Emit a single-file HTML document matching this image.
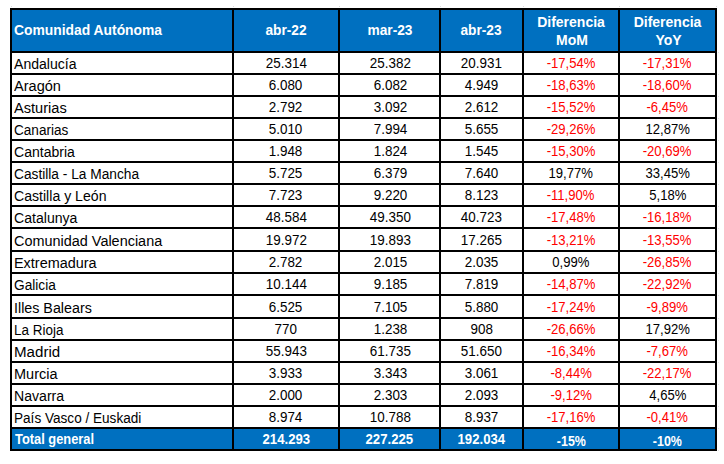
<!DOCTYPE html>
<html><head><meta charset="utf-8"><style>
html,body{margin:0;padding:0;background:#fff;width:724px;height:464px;overflow:hidden;}
body{position:relative;font-family:"Liberation Sans",sans-serif;color:#000;}
.b{position:absolute;background:#000;}
.f{position:absolute;background:#0070C0;}
.t{position:absolute;white-space:nowrap;font-size:14px;line-height:20px;height:20px;}
.t span{display:inline-block;}
.c{transform-origin:center 0;}
.w{color:#fff;font-weight:bold;}
.r{color:#f00;}
</style></head><body>

<div class="f" style="left:10px;top:8px;width:707px;height:43px"></div>
<div class="f" style="left:10px;top:427px;width:707px;height:22px"></div>
<div class="b" style="left:10px;top:8px;width:707px;height:2px"></div>
<div class="b" style="left:10px;top:51px;width:707px;height:2px"></div>
<div class="b" style="left:10px;top:73px;width:707px;height:2px"></div>
<div class="b" style="left:10px;top:95px;width:707px;height:2px"></div>
<div class="b" style="left:10px;top:117px;width:707px;height:2px"></div>
<div class="b" style="left:10px;top:139px;width:707px;height:2px"></div>
<div class="b" style="left:10px;top:161px;width:707px;height:2px"></div>
<div class="b" style="left:10px;top:183px;width:707px;height:2px"></div>
<div class="b" style="left:10px;top:205px;width:707px;height:2px"></div>
<div class="b" style="left:10px;top:227px;width:707px;height:2px"></div>
<div class="b" style="left:10px;top:250px;width:707px;height:2px"></div>
<div class="b" style="left:10px;top:272px;width:707px;height:2px"></div>
<div class="b" style="left:10px;top:294px;width:707px;height:2px"></div>
<div class="b" style="left:10px;top:317px;width:707px;height:2px"></div>
<div class="b" style="left:10px;top:339px;width:707px;height:2px"></div>
<div class="b" style="left:10px;top:361px;width:707px;height:2px"></div>
<div class="b" style="left:10px;top:383px;width:707px;height:2px"></div>
<div class="b" style="left:10px;top:405px;width:707px;height:2px"></div>
<div class="b" style="left:10px;top:427px;width:707px;height:2px"></div>
<div class="b" style="left:10px;top:449px;width:707px;height:2px"></div>
<div class="b" style="left:10px;top:8px;width:2px;height:443px"></div>
<div class="b" style="left:232px;top:8px;width:2px;height:443px"></div>
<div class="b" style="left:338px;top:8px;width:2px;height:443px"></div>
<div class="b" style="left:439px;top:8px;width:2px;height:443px"></div>
<div class="b" style="left:522px;top:8px;width:2px;height:443px"></div>
<div class="b" style="left:618px;top:8px;width:2px;height:443px"></div>
<div class="b" style="left:715px;top:8px;width:2px;height:443px"></div>
<div class="t w" style="left:14.0px;top:20.0px"><span style="transform:scaleX(0.990);transform-origin:0 0">Comunidad Autónoma</span></div>
<div class="t w" style="left:234.0px;top:20.0px;width:104.0px;text-align:center"><span style="transform:scaleX(0.980);transform-origin:50% 0">abr-22</span></div>
<div class="t w" style="left:340.0px;top:20.0px;width:99.0px;text-align:center"><span style="transform:scaleX(0.980);transform-origin:50% 0">mar-23</span></div>
<div class="t w" style="left:441.0px;top:20.0px;width:81.0px;text-align:center"><span style="transform:scaleX(0.980);transform-origin:50% 0">abr-23</span></div>
<div class="t w" style="left:524.0px;top:12.0px;width:94.0px;text-align:center"><span style="transform:scaleX(1.000);transform-origin:50% 0">Diferencia</span></div>
<div class="t w" style="left:525.0px;top:30.0px;width:94.0px;text-align:center"><span style="transform:scaleX(1.000);transform-origin:50% 0">MoM</span></div>
<div class="t w" style="left:620.0px;top:12.0px;width:95.0px;text-align:center"><span style="transform:scaleX(1.000);transform-origin:50% 0">Diferencia</span></div>
<div class="t w" style="left:621.0px;top:30.0px;width:95.0px;text-align:center"><span style="transform:scaleX(1.000);transform-origin:50% 0">YoY</span></div>
<div class="t " style="left:14.0px;top:54.0px"><span style="transform:scaleX(1.005);transform-origin:0 0">Andalucía</span></div>
<div class="t " style="left:234.0px;top:53.0px;width:104.0px;text-align:center"><span style="transform:scaleX(0.960);transform-origin:50% 0">25.314</span></div>
<div class="t " style="left:341.0px;top:53.0px;width:99.0px;text-align:center"><span style="transform:scaleX(0.960);transform-origin:50% 0">25.382</span></div>
<div class="t " style="left:441.0px;top:53.0px;width:81.0px;text-align:center"><span style="transform:scaleX(0.960);transform-origin:50% 0">20.931</span></div>
<div class="t r" style="left:524.0px;top:53.0px;width:94.0px;text-align:center"><span style="transform:scaleX(0.935);transform-origin:50% 0">-17,54%</span></div>
<div class="t r" style="left:620.0px;top:53.0px;width:95.0px;text-align:center"><span style="transform:scaleX(0.935);transform-origin:50% 0">-17,31%</span></div>
<div class="t " style="left:14.0px;top:76.0px"><span style="transform:scaleX(1.039);transform-origin:0 0">Aragón</span></div>
<div class="t " style="left:234.0px;top:75.0px;width:104.0px;text-align:center"><span style="transform:scaleX(0.960);transform-origin:50% 0">6.080</span></div>
<div class="t " style="left:341.0px;top:75.0px;width:99.0px;text-align:center"><span style="transform:scaleX(0.960);transform-origin:50% 0">6.082</span></div>
<div class="t " style="left:441.0px;top:75.0px;width:81.0px;text-align:center"><span style="transform:scaleX(0.960);transform-origin:50% 0">4.949</span></div>
<div class="t r" style="left:524.0px;top:75.0px;width:94.0px;text-align:center"><span style="transform:scaleX(0.935);transform-origin:50% 0">-18,63%</span></div>
<div class="t r" style="left:620.0px;top:75.0px;width:95.0px;text-align:center"><span style="transform:scaleX(0.935);transform-origin:50% 0">-18,60%</span></div>
<div class="t " style="left:14.0px;top:98.0px"><span style="transform:scaleX(1.044);transform-origin:0 0">Asturias</span></div>
<div class="t " style="left:234.0px;top:97.0px;width:104.0px;text-align:center"><span style="transform:scaleX(0.960);transform-origin:50% 0">2.792</span></div>
<div class="t " style="left:341.0px;top:97.0px;width:99.0px;text-align:center"><span style="transform:scaleX(0.960);transform-origin:50% 0">3.092</span></div>
<div class="t " style="left:441.0px;top:97.0px;width:81.0px;text-align:center"><span style="transform:scaleX(0.960);transform-origin:50% 0">2.612</span></div>
<div class="t r" style="left:524.0px;top:97.0px;width:94.0px;text-align:center"><span style="transform:scaleX(0.935);transform-origin:50% 0">-15,52%</span></div>
<div class="t r" style="left:620.0px;top:97.0px;width:95.0px;text-align:center"><span style="transform:scaleX(0.935);transform-origin:50% 0">-6,45%</span></div>
<div class="t " style="left:14.0px;top:120.0px"><span style="transform:scaleX(0.970);transform-origin:0 0">Canarias</span></div>
<div class="t " style="left:234.0px;top:119.0px;width:104.0px;text-align:center"><span style="transform:scaleX(0.960);transform-origin:50% 0">5.010</span></div>
<div class="t " style="left:341.0px;top:119.0px;width:99.0px;text-align:center"><span style="transform:scaleX(0.960);transform-origin:50% 0">7.994</span></div>
<div class="t " style="left:441.0px;top:119.0px;width:81.0px;text-align:center"><span style="transform:scaleX(0.960);transform-origin:50% 0">5.655</span></div>
<div class="t r" style="left:524.0px;top:119.0px;width:94.0px;text-align:center"><span style="transform:scaleX(0.935);transform-origin:50% 0">-29,26%</span></div>
<div class="t " style="left:620.0px;top:119.0px;width:95.0px;text-align:center"><span style="transform:scaleX(0.935);transform-origin:50% 0">12,87%</span></div>
<div class="t " style="left:14.0px;top:142.0px"><span style="transform:scaleX(1.003);transform-origin:0 0">Cantabria</span></div>
<div class="t " style="left:234.0px;top:141.0px;width:104.0px;text-align:center"><span style="transform:scaleX(0.960);transform-origin:50% 0">1.948</span></div>
<div class="t " style="left:341.0px;top:141.0px;width:99.0px;text-align:center"><span style="transform:scaleX(0.960);transform-origin:50% 0">1.824</span></div>
<div class="t " style="left:441.0px;top:141.0px;width:81.0px;text-align:center"><span style="transform:scaleX(0.960);transform-origin:50% 0">1.545</span></div>
<div class="t r" style="left:524.0px;top:141.0px;width:94.0px;text-align:center"><span style="transform:scaleX(0.935);transform-origin:50% 0">-15,30%</span></div>
<div class="t r" style="left:620.0px;top:141.0px;width:95.0px;text-align:center"><span style="transform:scaleX(0.935);transform-origin:50% 0">-20,69%</span></div>
<div class="t " style="left:14.0px;top:164.0px"><span style="transform:scaleX(0.980);transform-origin:0 0">Castilla - La Mancha</span></div>
<div class="t " style="left:234.0px;top:163.0px;width:104.0px;text-align:center"><span style="transform:scaleX(0.960);transform-origin:50% 0">5.725</span></div>
<div class="t " style="left:341.0px;top:163.0px;width:99.0px;text-align:center"><span style="transform:scaleX(0.960);transform-origin:50% 0">6.379</span></div>
<div class="t " style="left:441.0px;top:163.0px;width:81.0px;text-align:center"><span style="transform:scaleX(0.960);transform-origin:50% 0">7.640</span></div>
<div class="t " style="left:524.0px;top:163.0px;width:94.0px;text-align:center"><span style="transform:scaleX(0.935);transform-origin:50% 0">19,77%</span></div>
<div class="t " style="left:620.0px;top:163.0px;width:95.0px;text-align:center"><span style="transform:scaleX(0.935);transform-origin:50% 0">33,45%</span></div>
<div class="t " style="left:14.0px;top:186.0px"><span style="transform:scaleX(1.007);transform-origin:0 0">Castilla y León</span></div>
<div class="t " style="left:234.0px;top:185.0px;width:104.0px;text-align:center"><span style="transform:scaleX(0.960);transform-origin:50% 0">7.723</span></div>
<div class="t " style="left:341.0px;top:185.0px;width:99.0px;text-align:center"><span style="transform:scaleX(0.960);transform-origin:50% 0">9.220</span></div>
<div class="t " style="left:441.0px;top:185.0px;width:81.0px;text-align:center"><span style="transform:scaleX(0.960);transform-origin:50% 0">8.123</span></div>
<div class="t r" style="left:524.0px;top:185.0px;width:94.0px;text-align:center"><span style="transform:scaleX(0.935);transform-origin:50% 0">-11,90%</span></div>
<div class="t " style="left:620.0px;top:185.0px;width:95.0px;text-align:center"><span style="transform:scaleX(0.935);transform-origin:50% 0">5,18%</span></div>
<div class="t " style="left:14.0px;top:208.0px"><span style="transform:scaleX(1.006);transform-origin:0 0">Catalunya</span></div>
<div class="t " style="left:234.0px;top:207.0px;width:104.0px;text-align:center"><span style="transform:scaleX(0.960);transform-origin:50% 0">48.584</span></div>
<div class="t " style="left:341.0px;top:207.0px;width:99.0px;text-align:center"><span style="transform:scaleX(0.960);transform-origin:50% 0">49.350</span></div>
<div class="t " style="left:441.0px;top:207.0px;width:81.0px;text-align:center"><span style="transform:scaleX(0.960);transform-origin:50% 0">40.723</span></div>
<div class="t r" style="left:524.0px;top:207.0px;width:94.0px;text-align:center"><span style="transform:scaleX(0.935);transform-origin:50% 0">-17,48%</span></div>
<div class="t r" style="left:620.0px;top:207.0px;width:95.0px;text-align:center"><span style="transform:scaleX(0.935);transform-origin:50% 0">-16,18%</span></div>
<div class="t " style="left:14.0px;top:231.0px"><span style="transform:scaleX(1.031);transform-origin:0 0">Comunidad Valenciana</span></div>
<div class="t " style="left:234.0px;top:230.0px;width:104.0px;text-align:center"><span style="transform:scaleX(0.960);transform-origin:50% 0">19.972</span></div>
<div class="t " style="left:341.0px;top:230.0px;width:99.0px;text-align:center"><span style="transform:scaleX(0.960);transform-origin:50% 0">19.893</span></div>
<div class="t " style="left:441.0px;top:230.0px;width:81.0px;text-align:center"><span style="transform:scaleX(0.960);transform-origin:50% 0">17.265</span></div>
<div class="t r" style="left:524.0px;top:230.0px;width:94.0px;text-align:center"><span style="transform:scaleX(0.935);transform-origin:50% 0">-13,21%</span></div>
<div class="t r" style="left:620.0px;top:230.0px;width:95.0px;text-align:center"><span style="transform:scaleX(0.935);transform-origin:50% 0">-13,55%</span></div>
<div class="t " style="left:14.0px;top:253.0px"><span style="transform:scaleX(1.030);transform-origin:0 0">Extremadura</span></div>
<div class="t " style="left:234.0px;top:252.0px;width:104.0px;text-align:center"><span style="transform:scaleX(0.960);transform-origin:50% 0">2.782</span></div>
<div class="t " style="left:341.0px;top:252.0px;width:99.0px;text-align:center"><span style="transform:scaleX(0.960);transform-origin:50% 0">2.015</span></div>
<div class="t " style="left:441.0px;top:252.0px;width:81.0px;text-align:center"><span style="transform:scaleX(0.960);transform-origin:50% 0">2.035</span></div>
<div class="t " style="left:524.0px;top:252.0px;width:94.0px;text-align:center"><span style="transform:scaleX(0.935);transform-origin:50% 0">0,99%</span></div>
<div class="t r" style="left:620.0px;top:252.0px;width:95.0px;text-align:center"><span style="transform:scaleX(0.935);transform-origin:50% 0">-26,85%</span></div>
<div class="t " style="left:14.0px;top:275.0px"><span style="transform:scaleX(0.979);transform-origin:0 0">Galicia</span></div>
<div class="t " style="left:234.0px;top:274.0px;width:104.0px;text-align:center"><span style="transform:scaleX(0.960);transform-origin:50% 0">10.144</span></div>
<div class="t " style="left:341.0px;top:274.0px;width:99.0px;text-align:center"><span style="transform:scaleX(0.960);transform-origin:50% 0">9.185</span></div>
<div class="t " style="left:441.0px;top:274.0px;width:81.0px;text-align:center"><span style="transform:scaleX(0.960);transform-origin:50% 0">7.819</span></div>
<div class="t r" style="left:524.0px;top:274.0px;width:94.0px;text-align:center"><span style="transform:scaleX(0.935);transform-origin:50% 0">-14,87%</span></div>
<div class="t r" style="left:620.0px;top:274.0px;width:95.0px;text-align:center"><span style="transform:scaleX(0.935);transform-origin:50% 0">-22,92%</span></div>
<div class="t " style="left:14.0px;top:298.0px"><span style="transform:scaleX(1.020);transform-origin:0 0">Illes Balears</span></div>
<div class="t " style="left:234.0px;top:297.0px;width:104.0px;text-align:center"><span style="transform:scaleX(0.960);transform-origin:50% 0">6.525</span></div>
<div class="t " style="left:341.0px;top:297.0px;width:99.0px;text-align:center"><span style="transform:scaleX(0.960);transform-origin:50% 0">7.105</span></div>
<div class="t " style="left:441.0px;top:297.0px;width:81.0px;text-align:center"><span style="transform:scaleX(0.960);transform-origin:50% 0">5.880</span></div>
<div class="t r" style="left:524.0px;top:297.0px;width:94.0px;text-align:center"><span style="transform:scaleX(0.935);transform-origin:50% 0">-17,24%</span></div>
<div class="t r" style="left:620.0px;top:297.0px;width:95.0px;text-align:center"><span style="transform:scaleX(0.935);transform-origin:50% 0">-9,89%</span></div>
<div class="t " style="left:14.0px;top:320.0px"><span style="transform:scaleX(0.961);transform-origin:0 0">La Rioja</span></div>
<div class="t " style="left:234.0px;top:319.0px;width:104.0px;text-align:center"><span style="transform:scaleX(0.960);transform-origin:50% 0">770</span></div>
<div class="t " style="left:341.0px;top:319.0px;width:99.0px;text-align:center"><span style="transform:scaleX(0.960);transform-origin:50% 0">1.238</span></div>
<div class="t " style="left:441.0px;top:319.0px;width:81.0px;text-align:center"><span style="transform:scaleX(0.960);transform-origin:50% 0">908</span></div>
<div class="t r" style="left:524.0px;top:319.0px;width:94.0px;text-align:center"><span style="transform:scaleX(0.935);transform-origin:50% 0">-26,66%</span></div>
<div class="t " style="left:620.0px;top:319.0px;width:95.0px;text-align:center"><span style="transform:scaleX(0.935);transform-origin:50% 0">17,92%</span></div>
<div class="t " style="left:14.0px;top:342.0px"><span style="transform:scaleX(1.079);transform-origin:0 0">Madrid</span></div>
<div class="t " style="left:234.0px;top:341.0px;width:104.0px;text-align:center"><span style="transform:scaleX(0.960);transform-origin:50% 0">55.943</span></div>
<div class="t " style="left:341.0px;top:341.0px;width:99.0px;text-align:center"><span style="transform:scaleX(0.960);transform-origin:50% 0">61.735</span></div>
<div class="t " style="left:441.0px;top:341.0px;width:81.0px;text-align:center"><span style="transform:scaleX(0.960);transform-origin:50% 0">51.650</span></div>
<div class="t r" style="left:524.0px;top:341.0px;width:94.0px;text-align:center"><span style="transform:scaleX(0.935);transform-origin:50% 0">-16,34%</span></div>
<div class="t r" style="left:620.0px;top:341.0px;width:95.0px;text-align:center"><span style="transform:scaleX(0.935);transform-origin:50% 0">-7,67%</span></div>
<div class="t " style="left:14.0px;top:364.0px"><span style="transform:scaleX(1.036);transform-origin:0 0">Murcia</span></div>
<div class="t " style="left:234.0px;top:363.0px;width:104.0px;text-align:center"><span style="transform:scaleX(0.960);transform-origin:50% 0">3.933</span></div>
<div class="t " style="left:341.0px;top:363.0px;width:99.0px;text-align:center"><span style="transform:scaleX(0.960);transform-origin:50% 0">3.343</span></div>
<div class="t " style="left:441.0px;top:363.0px;width:81.0px;text-align:center"><span style="transform:scaleX(0.960);transform-origin:50% 0">3.061</span></div>
<div class="t r" style="left:524.0px;top:363.0px;width:94.0px;text-align:center"><span style="transform:scaleX(0.935);transform-origin:50% 0">-8,44%</span></div>
<div class="t r" style="left:620.0px;top:363.0px;width:95.0px;text-align:center"><span style="transform:scaleX(0.935);transform-origin:50% 0">-22,17%</span></div>
<div class="t " style="left:14.0px;top:386.0px"><span style="transform:scaleX(1.006);transform-origin:0 0">Navarra</span></div>
<div class="t " style="left:234.0px;top:385.0px;width:104.0px;text-align:center"><span style="transform:scaleX(0.960);transform-origin:50% 0">2.000</span></div>
<div class="t " style="left:341.0px;top:385.0px;width:99.0px;text-align:center"><span style="transform:scaleX(0.960);transform-origin:50% 0">2.303</span></div>
<div class="t " style="left:441.0px;top:385.0px;width:81.0px;text-align:center"><span style="transform:scaleX(0.960);transform-origin:50% 0">2.093</span></div>
<div class="t r" style="left:524.0px;top:385.0px;width:94.0px;text-align:center"><span style="transform:scaleX(0.935);transform-origin:50% 0">-9,12%</span></div>
<div class="t " style="left:620.0px;top:385.0px;width:95.0px;text-align:center"><span style="transform:scaleX(0.935);transform-origin:50% 0">4,65%</span></div>
<div class="t " style="left:14.0px;top:408.0px"><span style="transform:scaleX(0.970);transform-origin:0 0">País Vasco / Euskadi</span></div>
<div class="t " style="left:234.0px;top:407.0px;width:104.0px;text-align:center"><span style="transform:scaleX(0.960);transform-origin:50% 0">8.974</span></div>
<div class="t " style="left:341.0px;top:407.0px;width:99.0px;text-align:center"><span style="transform:scaleX(0.960);transform-origin:50% 0">10.788</span></div>
<div class="t " style="left:441.0px;top:407.0px;width:81.0px;text-align:center"><span style="transform:scaleX(0.960);transform-origin:50% 0">8.937</span></div>
<div class="t r" style="left:524.0px;top:407.0px;width:94.0px;text-align:center"><span style="transform:scaleX(0.935);transform-origin:50% 0">-17,16%</span></div>
<div class="t r" style="left:620.0px;top:407.0px;width:95.0px;text-align:center"><span style="transform:scaleX(0.935);transform-origin:50% 0">-0,41%</span></div>
<div class="t w" style="left:15.0px;top:429.0px"><span style="transform:scaleX(0.918);transform-origin:0 0">Total general</span></div>
<div class="t w" style="left:234.0px;top:429.0px;width:104.0px;text-align:center"><span style="transform:scaleX(0.940);transform-origin:50% 0">214.293</span></div>
<div class="t w" style="left:340.0px;top:429.0px;width:99.0px;text-align:center"><span style="transform:scaleX(0.940);transform-origin:50% 0">227.225</span></div>
<div class="t w" style="left:441.0px;top:429.0px;width:81.0px;text-align:center"><span style="transform:scaleX(0.940);transform-origin:50% 0">192.034</span></div>
<div class="t w" style="left:524.0px;top:431.0px;width:94.0px;text-align:center"><span style="transform:scaleX(0.890);transform-origin:50% 0">-15%</span></div>
<div class="t w" style="left:620.0px;top:431.0px;width:95.0px;text-align:center"><span style="transform:scaleX(0.890);transform-origin:50% 0">-10%</span></div>
<div style="position:absolute;left:11px;top:6px;width:1px;height:1px;background:#dcdcdc"></div>
<div style="position:absolute;left:233px;top:6px;width:1px;height:1px;background:#dcdcdc"></div>
<div style="position:absolute;left:339px;top:6px;width:1px;height:1px;background:#dcdcdc"></div>
<div style="position:absolute;left:440px;top:6px;width:1px;height:1px;background:#dcdcdc"></div>
<div style="position:absolute;left:523px;top:6px;width:1px;height:1px;background:#dcdcdc"></div>
<div style="position:absolute;left:619px;top:6px;width:1px;height:1px;background:#dcdcdc"></div>
<div style="position:absolute;left:716px;top:6px;width:1px;height:1px;background:#dcdcdc"></div>
<div style="position:absolute;left:718px;top:52px;width:1px;height:1px;background:#e2e2e2"></div>
<div style="position:absolute;left:718px;top:74px;width:1px;height:1px;background:#e2e2e2"></div>
<div style="position:absolute;left:718px;top:96px;width:1px;height:1px;background:#e2e2e2"></div>
<div style="position:absolute;left:718px;top:118px;width:1px;height:1px;background:#e2e2e2"></div>
<div style="position:absolute;left:718px;top:140px;width:1px;height:1px;background:#e2e2e2"></div>
<div style="position:absolute;left:718px;top:162px;width:1px;height:1px;background:#e2e2e2"></div>
<div style="position:absolute;left:718px;top:184px;width:1px;height:1px;background:#e2e2e2"></div>
<div style="position:absolute;left:718px;top:206px;width:1px;height:1px;background:#e2e2e2"></div>
<div style="position:absolute;left:718px;top:228px;width:1px;height:1px;background:#e2e2e2"></div>
<div style="position:absolute;left:718px;top:251px;width:1px;height:1px;background:#e2e2e2"></div>
<div style="position:absolute;left:718px;top:273px;width:1px;height:1px;background:#e2e2e2"></div>
<div style="position:absolute;left:718px;top:295px;width:1px;height:1px;background:#e2e2e2"></div>
<div style="position:absolute;left:718px;top:318px;width:1px;height:1px;background:#e2e2e2"></div>
<div style="position:absolute;left:718px;top:340px;width:1px;height:1px;background:#e2e2e2"></div>
<div style="position:absolute;left:718px;top:362px;width:1px;height:1px;background:#e2e2e2"></div>
<div style="position:absolute;left:718px;top:384px;width:1px;height:1px;background:#e2e2e2"></div>
<div style="position:absolute;left:718px;top:406px;width:1px;height:1px;background:#e2e2e2"></div>
<div style="position:absolute;left:718px;top:428px;width:1px;height:1px;background:#e2e2e2"></div>
<div style="position:absolute;left:718px;top:450px;width:1px;height:1px;background:#e2e2e2"></div>
</body></html>
